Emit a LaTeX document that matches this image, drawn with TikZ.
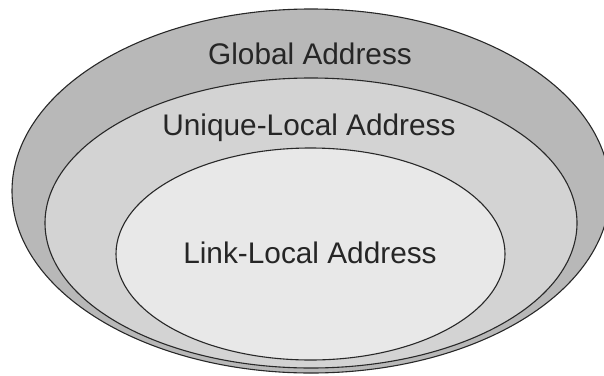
\documentclass[tikz,border=0pt]{standalone}
\usepackage{fontspec}
\setmainfont{Liberation Sans}
\definecolor{ringout}{RGB}{184,184,184}
\definecolor{ringmid}{RGB}{211,211,211}
\definecolor{ringin}{RGB}{232,232,232}
\definecolor{edge}{RGB}{40,40,40}
\begin{document}
\begin{tikzpicture}[x=1pt,y=-1pt,
  ring/.style={draw=edge,line width=1.1pt},
  lbl/.style={anchor=base,inner sep=0pt,text=black!85,
    font=\fontsize{29.8}{34}\selectfont}]
  \useasboundingbox (0,0) rectangle (604,375);
  \begin{scope}
    \clip (0,0) rectangle (604,375);
    % nested address scopes, widest first
    \draw[ring,fill=ringout] (311,191) ellipse [x radius=299pt, y radius=182pt];
    \draw[ring,fill=ringmid] (311,223) ellipse [x radius=266pt, y radius=145pt];
    \draw[ring,fill=ringin] (310.5,254) ellipse [x radius=194.5pt, y radius=106pt];
  \end{scope}
  \node[lbl] (global) at (310,64) {Global Address};
  \node[lbl] (unique) at (309,135) {Unique-Local Address};
  \node[lbl] (link) at (310,263) {Link-Local Address};
\end{tikzpicture}
\end{document}
